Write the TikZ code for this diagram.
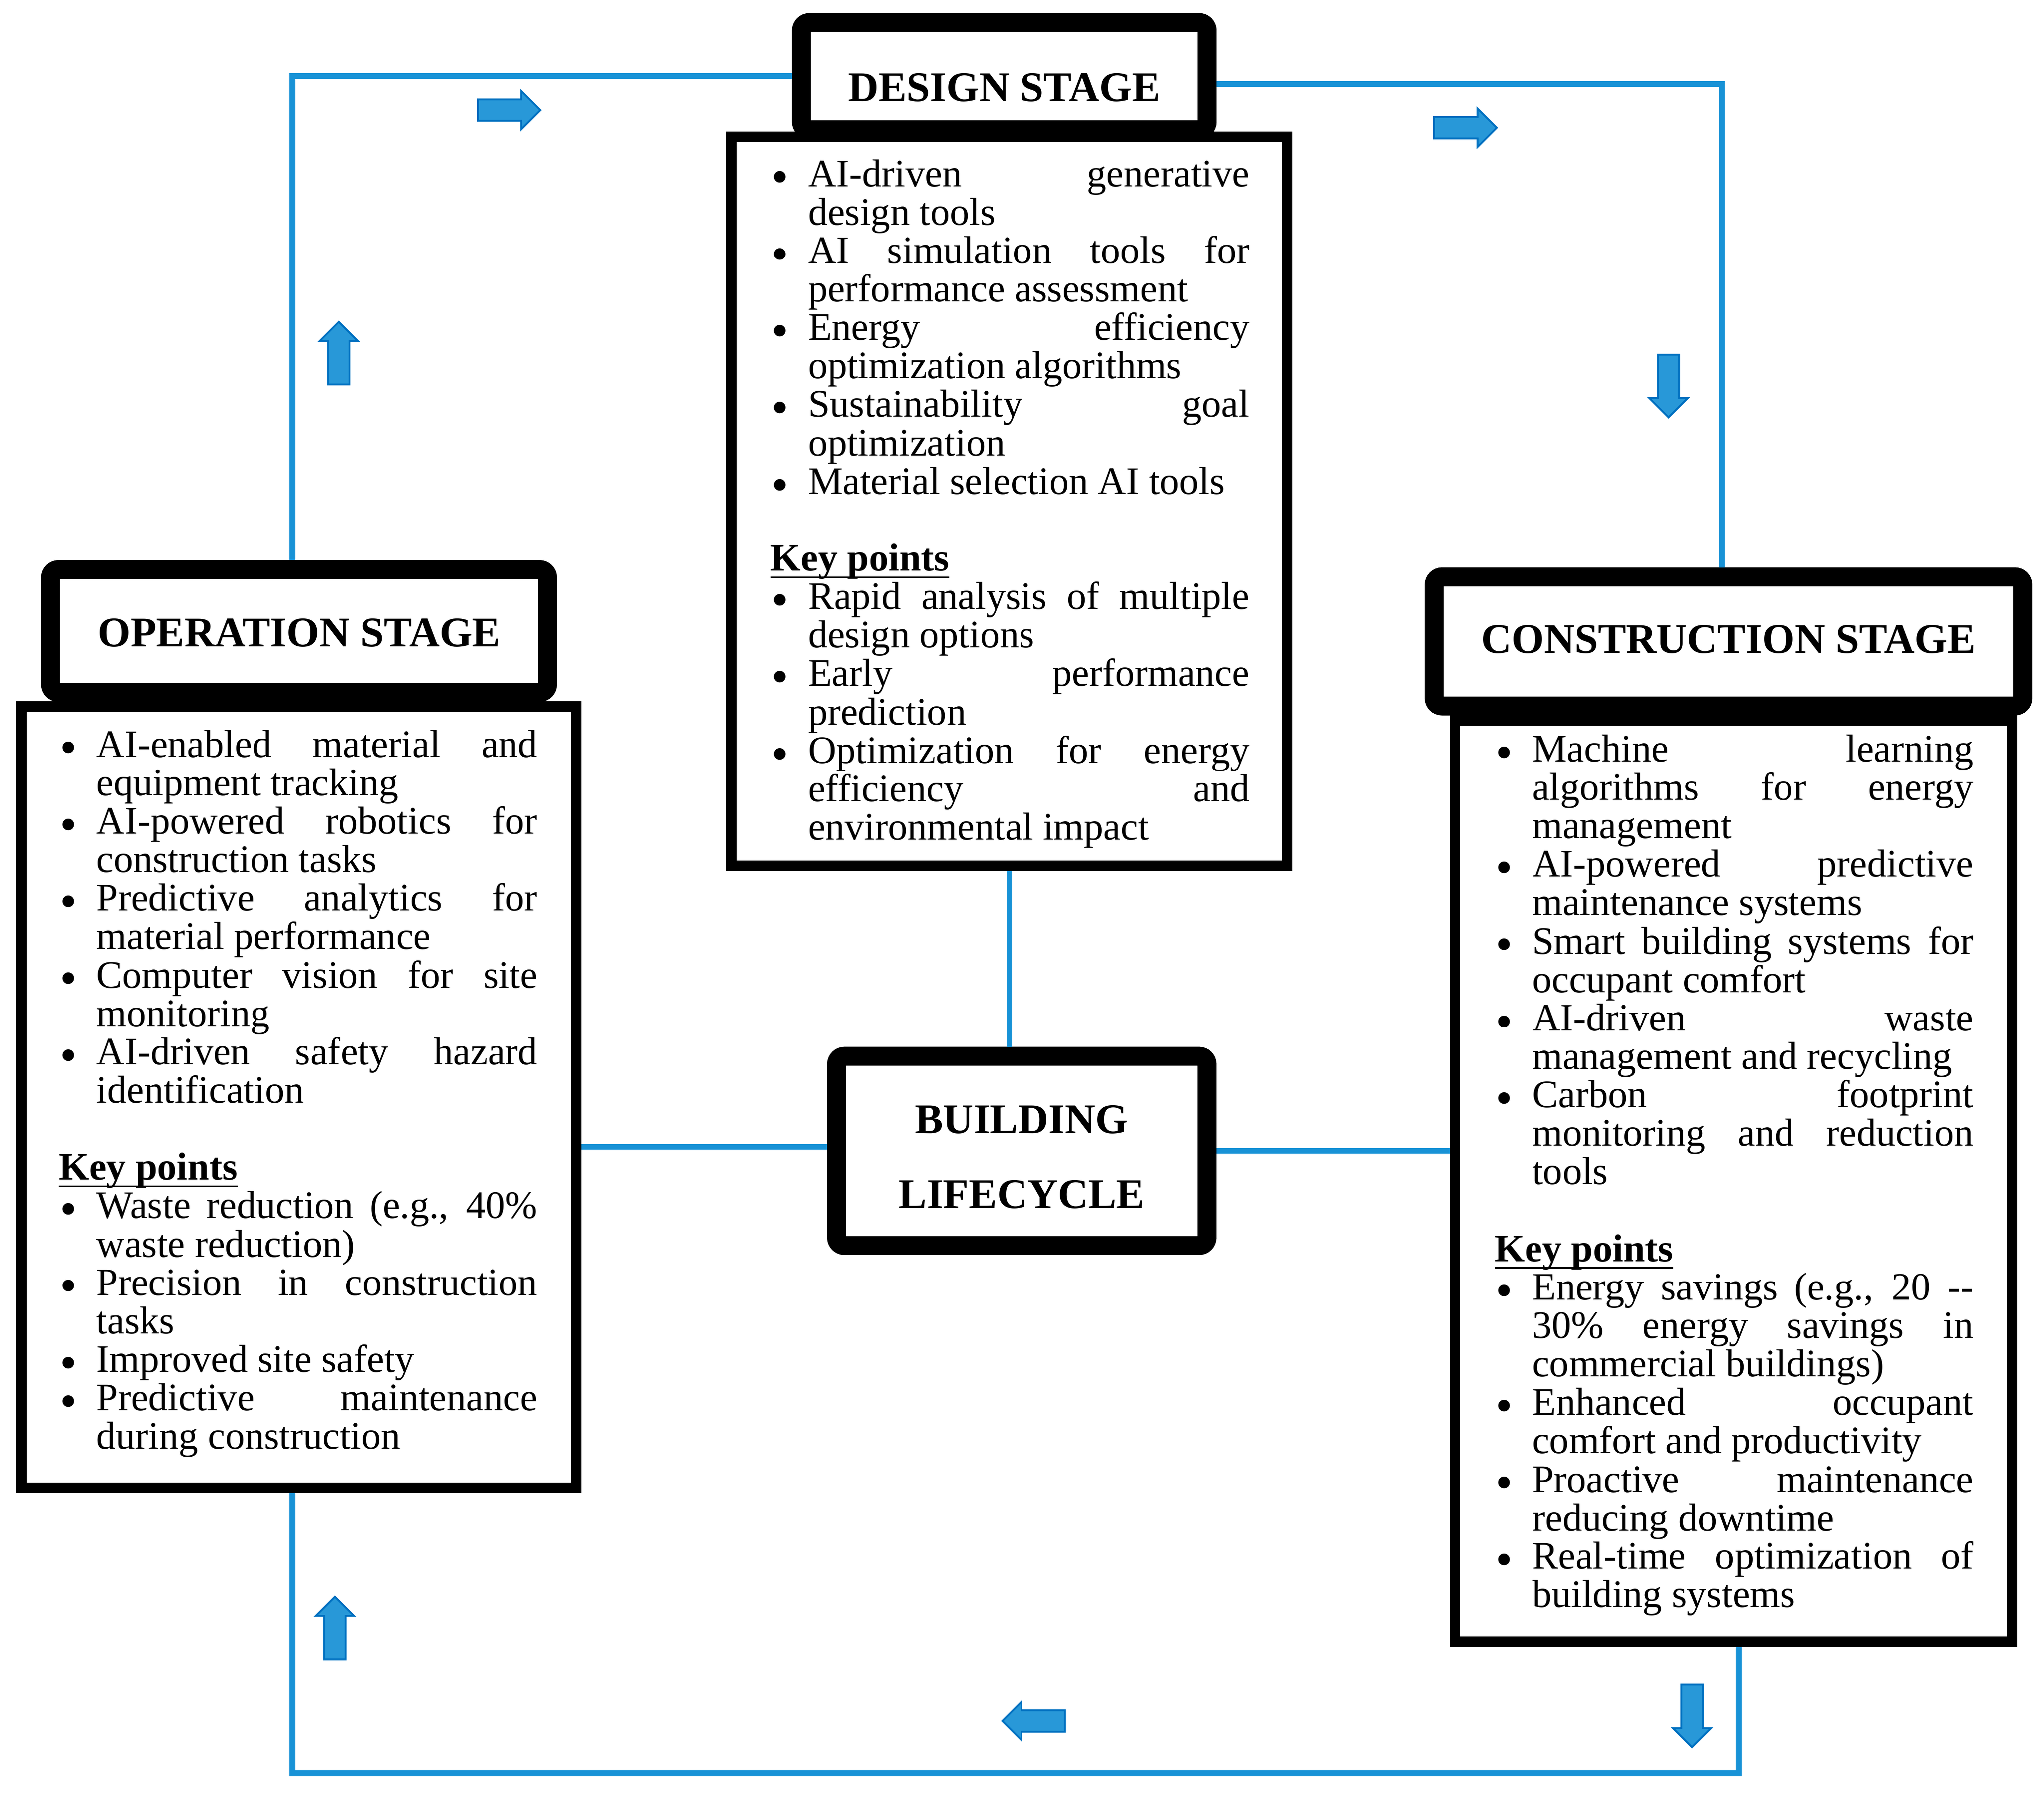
\documentclass[tikz,border=0pt]{standalone}
\usepackage{fontspec}
\setmainfont{Liberation Serif}
\usepackage{graphicx}
\usepackage{enumitem}
\usetikzlibrary{shapes.arrows}

\definecolor{lineblue}{RGB}{24,146,214}
\definecolor{arrowfill}{RGB}{40,152,216}
\definecolor{arrowedge}{RGB}{0,112,192}

\setlist[itemize]{nosep, leftmargin=0.288cm, labelsep=0.15cm, label=\raisebox{-1.5pt}{\scalebox{1.25}{\textbullet}}}
\newcommand{\keyhead}{\par\vspace{\baselineskip}\noindent\underline{\smash{\textbf{Key points}}}\par}
\newcommand{\tightlines}{\lineskiplimit=-100pt\relax}
\tolerance=10000
\hyphenpenalty=10000
\exhyphenpenalty=10000

\tikzset{
	stagehead/.style={draw, line width=0.145cm, rounded corners=0.06cm, fill=white, inner sep=0pt, text depth=0pt, font=\bfseries\fontsize{9.2}{11}\selectfont},
	stagebody/.style={draw, line width=0.08cm, fill=white, inner sep=0pt},
	stagetext/.style={anchor=north west, inner sep=0pt, text width=3.67cm, align=justify, font=\fontsize{8.5}{8.386}\selectfont\tightlines},
	flow/.style={draw=lineblue, line width=0.045cm},
	flowarrow/.style={single arrow, draw=arrowedge, fill=arrowfill, line width=0.4pt, inner sep=0.075cm, minimum height=0.48cm, single arrow head extend=0.065cm}
}

\begin{document}
\begin{tikzpicture}[x=0.01cm, y=-0.01cm]
		\fill[white] (0,0) rectangle (1568,1378.4);
		% stage boxes
		\node[stagebody, minimum width=4.265cm, minimum height=5.59cm] (desbody) at (774.25,384.5) {};
		\node[stagehead, minimum width=3.108cm, minimum height=0.82cm, text height=0.382cm] (deshead) at (770.4,58.5) {DESIGN STAGE};
		\node[stagebody, minimum width=4.253cm, minimum height=5.99cm] (opbody) at (229.35,841.5) {};
		\node[stagehead, minimum width=3.81cm, minimum height=0.94cm, text height=0.24cm] (ophead) at (229.5,484) {OPERATION STAGE};
		\node[stagebody, minimum width=4.269cm, minimum height=7.062cm] (conbody) at (1329.75,905.9) {};
		\node[stagehead, minimum width=4.512cm, minimum height=0.989cm, text height=0.18cm] (conhead) at (1325.9,492) {CONSTRUCTION STAGE};
		\node[stagehead, minimum width=2.838cm, minimum height=1.45cm, align=center, font=\bfseries\fontsize{9.2}{16.3}\selectfont] (life) at (783.8,882.8) {\rule{0pt}{8.8pt}BUILDING\\LIFECYCLE};
		% texts
		\node[stagetext] (destext) at (590.5,112.8) {%
			\begin{itemize}
				\item AI-driven generative\linebreak design tools
				\item AI simulation tools for\linebreak performance assessment
				\item Energy efficiency\linebreak optimization algorithms
				\item Sustainability goal\linebreak optimization
				\item Material selection AI tools
			\end{itemize}
			\keyhead
			\begin{itemize}
				\item Rapid analysis of multiple\linebreak design options
				\item Early performance\linebreak prediction
				\item Optimization for energy\linebreak efficiency and\linebreak environmental impact
			\end{itemize}};
		\node[stagetext] (optext) at (44.5,550.5) {%
			\begin{itemize}
				\item AI-enabled material and\linebreak equipment tracking
				\item AI-powered robotics for\linebreak construction tasks
				\item Predictive analytics for\linebreak material performance
				\item Computer vision for site\linebreak monitoring
				\item AI-driven safety hazard\linebreak identification
			\end{itemize}
			\keyhead
			\begin{itemize}
				\item Waste reduction (e.g., 40\%\linebreak waste reduction)
				\item Precision in construction\linebreak tasks
				\item Improved site safety
				\item Predictive maintenance\linebreak during construction
			\end{itemize}};
		\node[stagetext] (context) at (1146,554) {%
			\begin{itemize}
				\item Machine learning\linebreak algorithms for energy\linebreak management
				\item AI-powered predictive\linebreak maintenance systems
				\item Smart building systems for\linebreak occupant comfort
				\item AI-driven waste\linebreak management and recycling
				\item Carbon footprint\linebreak monitoring and reduction\linebreak tools
			\end{itemize}
			\keyhead
			\begin{itemize}
				\item Energy savings (e.g., 20 -{}-\linebreak 30\% energy savings in\linebreak commercial buildings)
				\item Enhanced occupant\linebreak comfort and productivity
				\item Proactive maintenance\linebreak reducing downtime
				\item Real-time optimization of\linebreak building systems
			\end{itemize}};
		% cycle
		\coordinate (loopbase) at (780,1360);
		\draw[flow] (deshead.west) -| ([xshift=-0.05cm]ophead.north);
		\draw[flow] ([yshift=-0.06cm]deshead.east) -| ([xshift=-0.05cm]conhead.north);
		\draw[flow] (desbody.south) -- (desbody.south |- life.north);
		\draw[flow] ([yshift=0.03cm]life.west) -- ([yshift=0.03cm]life.west -| opbody.east);
		\draw[flow] (life.east) -- (life.east -| conbody.west);
		\draw[flow] ([xshift=-0.05cm]opbody.south) |- (loopbase) -| ([xshift=0.04cm]conbody.south);
		% direction arrows
		\node[flowarrow] (arrowa) at (386.5,84.5) {};
		\node[flowarrow] (arrowb) at (1120,98) {};
		\node[flowarrow, rotate=-90] (arrowc) at (1280,292) {};
		\node[flowarrow, rotate=-90] (arrowd) at (1298,1312) {};
		\node[flowarrow, rotate=180] (arrowe) at (797,1320) {};
		\node[flowarrow, rotate=90] (arrowf) at (257,1253) {};
		\node[flowarrow, rotate=90] (arrowg) at (260,275) {};
\end{tikzpicture}
\end{document}
